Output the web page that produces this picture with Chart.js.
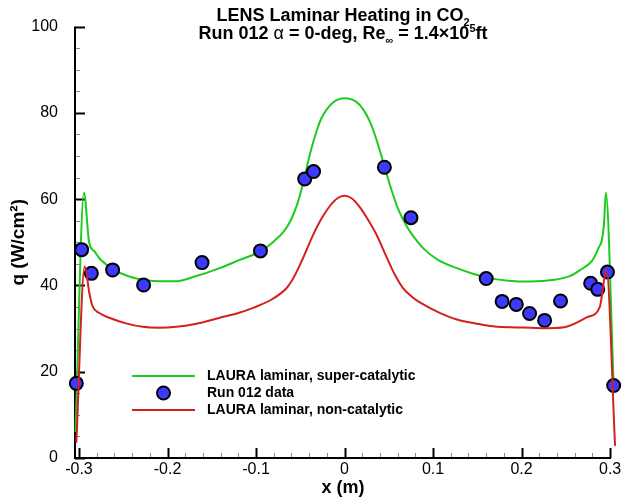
<!DOCTYPE html>
<html>
<head>
<meta charset="utf-8">
<script src="https://cdn.jsdelivr.net/npm/chart.js@4.4.1/dist/chart.umd.min.js"></script>
<style>
  html, body { margin: 0; padding: 0; background: #fff; }
</style>
</head>
<body>
<canvas id="chart" width="632" height="503"></canvas>
<script>
// LAURA laminar, super-catalytic
const superX = [-0.304, -0.2944, -0.2885, -0.282, -0.277, -0.27, -0.262, -0.245, -0.228, -0.21, -0.19, -0.17, -0.141, -0.12, -0.094, -0.08, -0.069, -0.061, -0.054, -0.047, -0.039, -0.032, -0.026, -0.013, 0, 0.013, 0.021, 0.029, 0.037, 0.045, 0.052, 0.06, 0.07, 0.08, 0.089, 0.105, 0.127, 0.145, 0.164, 0.185, 0.21, 0.237, 0.255, 0.267, 0.28, 0.287, 0.2908, 0.293, 0.2952, 0.304];
const superQ = [6, 61.5, 50, 47.8, 46.3, 45.0, 43.7, 42.2, 41.3, 41.0, 41.0, 42.0, 44.0, 45.8, 48.0, 50.2, 52.4, 55.0, 58.5, 63.5, 70.5, 75.5, 78.8, 82.4, 83.4, 82.6, 80.8, 77.8, 73.2, 67.6, 62.8, 58.0, 53.8, 50.8, 48.6, 46.0, 44.0, 42.7, 41.7, 41.1, 40.9, 41.3, 42.2, 43.7, 45.8, 48.7, 50.6, 54, 61.5, 17];

// LAURA laminar, non-catalytic
const nonX = [-0.303, -0.2936, -0.288, -0.2847, -0.277, -0.2657, -0.247, -0.228, -0.209, -0.19, -0.17, -0.141, -0.12, -0.1033, -0.082, -0.0654, -0.057, -0.047, -0.036, -0.026, -0.017, -0.008, 0, 0.008, 0.017, 0.026, 0.036, 0.047, 0.057, 0.066, 0.076, 0.089, 0.108, 0.127, 0.148, 0.164, 0.188, 0.21, 0.228, 0.248, 0.2748, 0.2883, 0.2959, 0.3056];
const nonQ = [3.5, 44.4, 37.9, 35.2, 33.6, 32.5, 31.2, 30.4, 30.2, 30.4, 31.0, 32.5, 33.6, 34.8, 36.8, 39.4, 42.0, 46.3, 51.5, 55.5, 58.3, 60.2, 60.8, 60.2, 58.2, 55.4, 51.8, 46.8, 42.4, 39.4, 37.4, 35.6, 33.6, 32.1, 31.2, 30.6, 30.3, 30.2, 30.1, 30.3, 32.7, 35.0, 43.6, 2.8];

// Run 012 data
const runX = [-0.303, -0.297, -0.286, -0.262, -0.227, -0.161, -0.095, -0.045, -0.035, 0.045, 0.075, 0.160, 0.178, 0.194, 0.209, 0.226, 0.244, 0.278, 0.286, 0.297, 0.304];
const runQ = [17.3, 48.3, 42.8, 43.6, 40.1, 45.3, 48.0, 64.7, 66.4, 67.4, 55.7, 41.6, 36.3, 35.6, 33.5, 31.9, 36.4, 40.5, 39.1, 43.1, 16.8];

const xTicks = [-0.3, -0.2, -0.1, 0, 0.1, 0.2, 0.3];
const yTicks = [0, 20, 40, 60, 80, 100];

const titleLine1 = [{ t: "LENS Laminar Heating in CO" }, { t: "2", sub: true }];
const titleLine2 = [
  { t: "Run 012 " }, { t: "α", plain: true }, { t: " = 0-deg, Re" }, { t: "∞", sub: true },
  { t: " = 1.4×10" }, { t: "5", sup: true }, { t: "ft" },
];

const FONT = '"Liberation Sans", Arial, Helvetica, sans-serif';
const GREEN = "#1ccc1c";
const RED = "#d42020";
const BLUE = "#3b3bff";

const toPoints = (xs, ys) => xs.map((x, i) => ({ x, y: ys[i] }));

function drawRuns(ctx, runs, cx, baseline, size) {
  const parts = runs.map((r) => {
    const s = r.sub || r.sup ? Math.round(size * 0.62) : size;
    const font = `${r.plain ? "" : "bold "}${s}px ${FONT}`;
    ctx.font = font;
    return { ...r, font, w: ctx.measureText(r.t).width, dy: r.sub ? 5 : r.sup ? -7 : 0 };
  });
  let x = cx - parts.reduce((s, p) => s + p.w, 0) / 2;
  for (const p of parts) {
    ctx.font = p.font;
    ctx.fillText(p.t, x, baseline + p.dy);
    x += p.w;
  }
}

const titlePlugin = {
  id: "richTitle",
  afterDraw(chart) {
    const { ctx, chartArea: a } = chart;
    const cx = (a.left + a.right) / 2;
    ctx.save();
    ctx.fillStyle = "#000";
    ctx.textBaseline = "alphabetic";
    ctx.textAlign = "left";
    drawRuns(ctx, titleLine1, cx, 21, 18);
    drawRuns(ctx, titleLine2, cx, 39, 18);
    ctx.restore();
  },
};

const axesPlugin = {
  id: "inwardAxes",
  beforeDatasetsDraw(chart) {
    const { ctx, chartArea: a, scales: { x, y } } = chart;
    ctx.save();
    // minor + major ticks, pointing into the plot
    for (let i = -15; i <= 15; i++) {
      const px = Math.round(x.getPixelForValue(i * 0.02)) + 0.5;
      const major = i % 5 === 0;
      ctx.strokeStyle = major ? "#000" : "#888";
      ctx.lineWidth = major ? 2 : 1;
      ctx.beginPath();
      ctx.moveTo(px, a.bottom);
      ctx.lineTo(px, a.bottom - (major ? 10 : 5));
      ctx.stroke();
    }
    for (let i = 0; i <= 20; i++) {
      const py = Math.round(y.getPixelForValue(i * 5)) + 0.5;
      const major = i % 4 === 0;
      ctx.strokeStyle = major ? "#000" : "#888";
      ctx.lineWidth = major ? 2 : 1;
      ctx.beginPath();
      ctx.moveTo(a.left, py);
      ctx.lineTo(a.left + (major ? 10 : 5), py);
      ctx.stroke();
    }
    ctx.strokeStyle = "#000";
    ctx.lineWidth = 2;
    ctx.beginPath();
    ctx.moveTo(a.left, a.top);
    ctx.lineTo(a.left, a.bottom);
    ctx.lineTo(a.right, a.bottom);
    ctx.stroke();
    ctx.restore();
  },
};

const legendPlugin = {
  id: "insideLegend",
  afterDraw(chart) {
    const { ctx } = chart;
    const rows = [
      { ds: chart.data.datasets[0], y: 376 },
      { ds: chart.data.datasets[1], y: 393 },
      { ds: chart.data.datasets[2], y: 410 },
    ];
    ctx.save();
    ctx.font = `bold 14px ${FONT}`;
    ctx.textBaseline = "middle";
    ctx.fillStyle = "#000";
    for (const { ds, y } of rows) {
      if (ds.showLine) {
        ctx.strokeStyle = ds.borderColor;
        ctx.lineWidth = 2;
        ctx.beginPath();
        ctx.moveTo(132, y);
        ctx.lineTo(195, y);
        ctx.stroke();
      } else {
        ctx.beginPath();
        ctx.arc(163.5, y, ds.pointRadius, 0, Math.PI * 2);
        ctx.fillStyle = ds.pointBackgroundColor;
        ctx.fill();
        ctx.lineWidth = ds.pointBorderWidth;
        ctx.strokeStyle = ds.pointBorderColor;
        ctx.stroke();
        ctx.fillStyle = "#000";
      }
      ctx.fillText(ds.label, 207, y);
    }
    ctx.restore();
  },
};

new Chart(document.getElementById("chart"), {
  type: "scatter",
  data: {
    datasets: [
      {
        label: "LAURA laminar, super-catalytic",
        data: toPoints(superX, superQ),
        showLine: true,
        borderColor: GREEN,
        borderWidth: 2,
        pointRadius: 0,
        cubicInterpolationMode: "monotone",
        clip: false,
        order: 2,
      },
      {
        label: "Run 012 data",
        data: toPoints(runX, runQ),
        showLine: false,
        pointRadius: 6.5,
        pointBackgroundColor: BLUE,
        pointBorderColor: "#000",
        pointBorderWidth: 2,
        clip: false,
        order: 1,
      },
      {
        label: "LAURA laminar, non-catalytic",
        data: toPoints(nonX, nonQ),
        showLine: true,
        borderColor: RED,
        borderWidth: 2,
        pointRadius: 0,
        cubicInterpolationMode: "monotone",
        clip: false,
        order: 0,
      },
    ],
  },
  options: {
    responsive: false,
    animation: false,
    devicePixelRatio: 1,
    layout: { padding: { top: 23, right: 21, left: 0, bottom: 0 } },
    plugins: {
      legend: { display: false },
      title: { display: false },
      tooltip: { enabled: false },
    },
    scales: {
      x: {
        type: "linear",
        min: -0.3045,
        max: 0.301,
        afterBuildTicks: (scale) => { scale.ticks = xTicks.map((value) => ({ value })); },
        afterFit: (scale) => { scale.height = 45; },
        grid: { display: false, drawTicks: false },
        border: { display: false },
        ticks: {
          color: "#000",
          padding: 2,
          maxRotation: 0,
          font: { family: FONT, size: 16 },
          callback: (v) => String(Number(v.toFixed(1))),
        },
        title: {
          display: true,
          text: "x (m)",
          color: "#000",
          font: { family: FONT, size: 18, weight: "bold" },
          padding: { top: 0, bottom: 4 },
        },
      },
      y: {
        type: "linear",
        min: 0,
        max: 100,
        afterBuildTicks: (scale) => { scale.ticks = yTicks.map((value) => ({ value })); },
        afterFit: (scale) => { scale.width = 75; },
        grid: { display: false, drawTicks: false },
        border: { display: false },
        ticks: {
          color: "#000",
          padding: 17,
          font: { family: FONT, size: 16 },
        },
        title: {
          display: true,
          text: "q (W/cm²)",
          color: "#000",
          font: { family: FONT, size: 19, weight: "bold" },
          padding: { top: 7, bottom: 0 },
        },
      },
    },
  },
  plugins: [axesPlugin, legendPlugin, titlePlugin],
});
</script>
</body>
</html>
